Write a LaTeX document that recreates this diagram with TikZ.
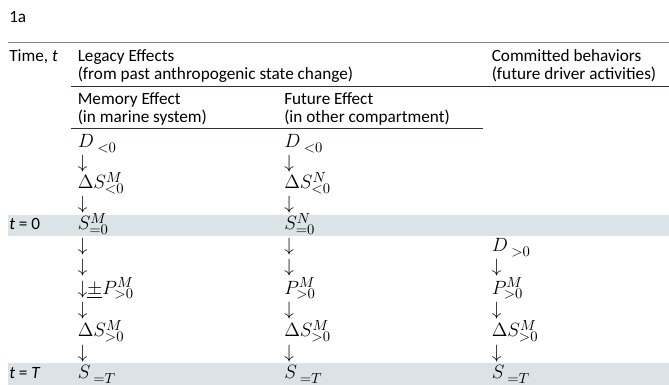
\documentclass[tikz,border=0pt]{standalone}
\usepackage{fontspec}
\setmainfont{Carlito}
\definecolor{bandgray}{HTML}{DCE3E6}
\definecolor{rulebrown}{HTML}{3E2C2A}
\definecolor{rulegray}{HTML}{7F7F7F}
\definecolor{squiggle}{HTML}{C0504D}
\newcommand{\gapsub}[2]{#1^{\phantom{M}}_{\kern3pt #2}}
\begin{document}
\begin{tikzpicture}[x=0.75pt, y=-0.75pt,
    every node/.style={inner sep=0pt, anchor=base west, font=\fontsize{12.9}{15}\selectfont},
    mathrow/.style={font=\fontsize{15.5}{17}\selectfont}]
  \useasboundingbox (0,0) rectangle (669,385);

  % 时间带
  \fill[bandgray] (8,215) rectangle (669,236.5);
  \fill[bandgray] (8,363) rectangle (669,385);

  % 表格横线
  \draw[rulegray, line width=0.75pt] (8,42.5) -- (669,42.5);
  \draw[rulebrown, line width=0.75pt] (70.5,86.5) -- (669,86.5);
  \draw[rulebrown, line width=0.75pt] (70.5,129) -- (483,129);

  % 标题
  \node (label1a) at (9,23) {1a};
  \node (time) at (9,61.5) {Time, \textit{t}};
  \node (legacy) at (77.5,61.5) {Legacy Effects};
  \node (pastchange) at (77.5,80) {(from past anthropogenic state change)};
  \node (committed) at (491.5,61.5) {Committed behaviors};
  \node (driveract) at (491.5,80) {(future driver activities)};
  \node (memory) at (77.5,104.5) {Memory Effect};
  \node (inmarine) at (77.5,123) {(in marine system)};
  \node (future) at (284,104.5) {Future Effect};
  \node (incompart) at (284,123) {(in other compartment)};

  % 时间点
  \node (tzero) at (9,230) {\textit{t} = 0};
  \node (tend) at (9,378.5) {\textit{t} = \textit{T}};

  % 记忆效应
  \begin{scope}[every node/.append style={mathrow}]
  \node (m1) at (77.5,148) {$\gapsub{D}{<0}$};
  \node (m2) at (77.5,168.5) {$\downarrow$};
  \node (m3) at (77.5,189) {$\Delta S^{M}_{<0}$};
  \node (m4) at (77.5,209.5) {$\downarrow$};
  \node (m5) at (77.5,230) {$S^{M}_{=0}$};
  \node (m6) at (77.5,251.4) {$\downarrow$};
  \node (m7) at (77.5,272.8) {$\downarrow$};
  \node (m8) at (77.5,294.2) {$\mathord{\downarrow}{\color{squiggle}\underline{\color{black}\pm}}P^{M}_{>0}$};
  \node (m9) at (77.5,315.6) {$\downarrow$};
  \node (m10) at (77.5,337) {$\Delta S^{M}_{>0}$};
  \node (m11) at (77.5,358.4) {$\downarrow$};
  \node (m12) at (77.5,378.5) {$\gapsub{S}{=T}$};

  % 未来效应
  \node (f1) at (284,148) {$\gapsub{D}{<0}$};
  \node (f2) at (284,168.5) {$\downarrow$};
  \node (f3) at (284,189) {$\Delta S^{N}_{<0}$};
  \node (f4) at (284,209.5) {$\downarrow$};
  \node (f5) at (284,230) {$S^{N}_{=0}$};
  \node (f6) at (284,251.4) {$\downarrow$};
  \node (f7) at (284,272.8) {$\downarrow$};
  \node (f8) at (284,294.2) {$P^{M}_{>0}$};
  \node (f9) at (284,315.6) {$\downarrow$};
  \node (f10) at (284,337) {$\Delta S^{M}_{>0}$};
  \node (f11) at (284,358.4) {$\downarrow$};
  \node (f12) at (284,378.5) {$\gapsub{S}{=T}$};

  % 承诺行为
  \node (c6) at (491.5,251.4) {$\gapsub{D}{>0}$};
  \node (c7) at (491.5,272.8) {$\downarrow$};
  \node (c8) at (491.5,294.2) {$P^{M}_{>0}$};
  \node (c9) at (491.5,315.6) {$\downarrow$};
  \node (c10) at (491.5,337) {$\Delta S^{M}_{>0}$};
  \node (c11) at (491.5,358.4) {$\downarrow$};
  \node (c12) at (491.5,378.5) {$\gapsub{S}{=T}$};
  \end{scope}
\end{tikzpicture}
\end{document}
